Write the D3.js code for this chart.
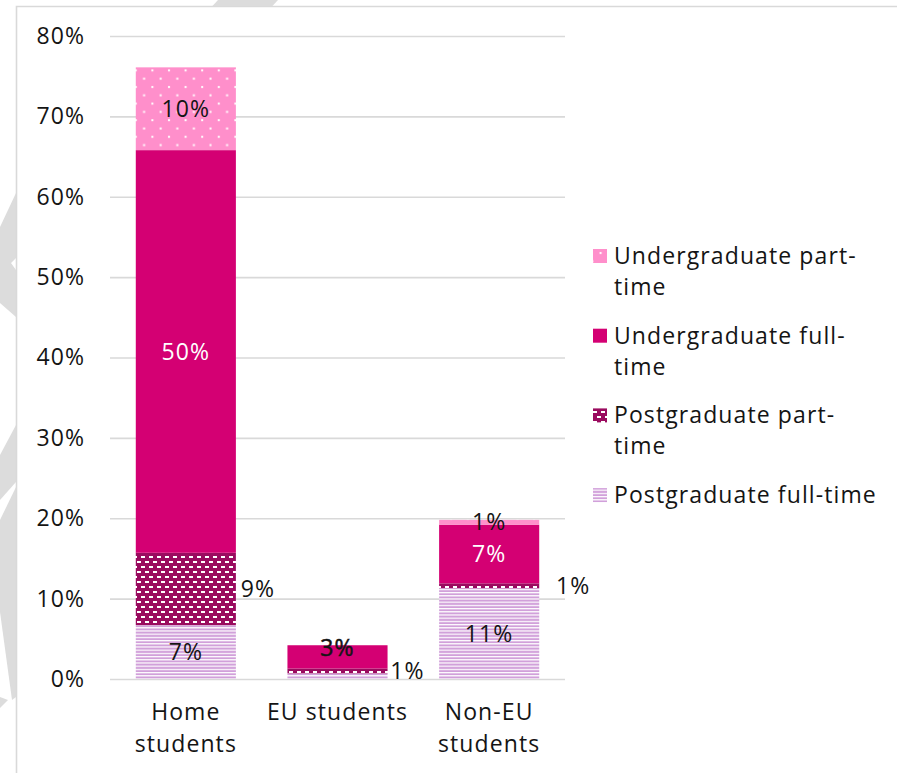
<!DOCTYPE html>
<html>
<head>
<meta charset="utf-8">
<script src="https://cdn.jsdelivr.net/npm/d3@7"></script>
<style>
  html, body { margin: 0; padding: 0; background: #fff; }
  svg { display: block; }
  text { font-family: "Open Sans", "Noto Sans", sans-serif; fill: #141414; letter-spacing: 1.1px; }
</style>
</head>
<body>
<svg id="chart" width="897" height="773"></svg>
<script>
// Student population by domicile and mode of study (share of all students)
const categories = ["Home students", "EU students", "Non-EU students"];
const seriesNames = [
  "Postgraduate full-time",
  "Postgraduate part-time",
  "Undergraduate full-time",
  "Undergraduate part-time"
];
// values per category, in stacking order (bottom to top)
const pgFullTime  = [0.067, 0.007, 0.113];
const pgPartTime  = [0.090, 0.006, 0.006];
const ugFullTime  = [0.501, 0.029, 0.073];
const ugPartTime  = [0.103, 0.000, 0.006];
const yTicks = [0, 0.1, 0.2, 0.3, 0.4, 0.5, 0.6, 0.7, 0.8];
// legend reads top to bottom
const legendOrder = [
  "Undergraduate part-time",
  "Undergraduate full-time",
  "Postgraduate part-time",
  "Postgraduate full-time"
];

const seriesValues = [pgFullTime, pgPartTime, ugFullTime, ugPartTime];

// data label placement per category (same series order as above)
const labelPlacement = [
  ["in", "out", "in", "in"],
  ["none", "out", "inHigh", "none"],
  ["in", "out", "in", "in"]
];
const outsideOffset = [22, 20, 34];

const svg = d3.select("#chart");
const W = 897, H = 773;
const margin = { left: 110, right: 332, top: 36, bottom: 94 };
const plotW = W - margin.left - margin.right;

// ---- background decoration and frame ----
const deco = svg.append("g").attr("fill", "#dcdcdc");
const shapes = [
  [[218, 0], [278, 0], [272, 6.5], [212, 6.5]],
  [[16, 193], [16, 258], [11, 263], [16, 270], [16, 317], [0, 303], [0, 227]],
  [[16, 425], [16, 482], [0, 500], [0, 455]],
  [[16, 487], [16, 633], [6, 625], [0, 600], [0, 520]],
  [[16, 600], [16, 697], [12, 700], [0, 612], [0, 600]],
  [[0, 697], [8, 700], [0, 708]]
];
deco.selectAll("path").data(shapes).join("path")
  .attr("d", d => d3.line()(d) + "Z");

svg.append("path")
  .attr("d", `M16.5,${H} L16.5,6.5 L${W},6.5`)
  .attr("fill", "none").attr("stroke", "#d9d9d9").attr("stroke-width", 1.6);

// ---- fill patterns ----
const defs = svg.append("defs");
const colors = {
  "Undergraduate part-time": "#ff8fcb",
  "Undergraduate full-time": "#d40073",
  "Postgraduate part-time": "#9a0b5f",
  "Postgraduate full-time": "#d1a0da"
};

const pDots = defs.append("pattern").attr("id", "pat-ugpt")
  .attr("patternUnits", "userSpaceOnUse").attr("width", 16.6).attr("height", 16.6);
pDots.append("rect").attr("width", 16.6).attr("height", 16.6).attr("fill", colors["Undergraduate part-time"]);
pDots.append("rect").attr("x", 2).attr("y", 3).attr("width", 2).attr("height", 2).attr("fill", "#fff");
pDots.append("rect").attr("x", 10.3).attr("y", 11.3).attr("width", 2).attr("height", 2).attr("fill", "#fff");

const pBrick = defs.append("pattern").attr("id", "pat-pgpt")
  .attr("patternUnits", "userSpaceOnUse").attr("width", 8).attr("height", 10);
pBrick.append("rect").attr("width", 8).attr("height", 10).attr("fill", colors["Postgraduate part-time"]);
pBrick.append("rect").attr("x", 1).attr("y", 1).attr("width", 4).attr("height", 2).attr("fill", "#fff");
pBrick.append("rect").attr("x", 5).attr("y", 6).attr("width", 4).attr("height", 2).attr("fill", "#fff");
pBrick.append("rect").attr("x", -3).attr("y", 6).attr("width", 4).attr("height", 2).attr("fill", "#fff");

const pStripe = defs.append("pattern").attr("id", "pat-pgft")
  .attr("patternUnits", "userSpaceOnUse").attr("width", 10).attr("height", 3.2);
pStripe.append("rect").attr("width", 10).attr("height", 3.2).attr("fill", "#fff");
pStripe.append("rect").attr("y", 1.2).attr("width", 10).attr("height", 2).attr("fill", colors["Postgraduate full-time"]);

const fills = {
  "Undergraduate part-time": "url(#pat-ugpt)",
  "Undergraduate full-time": colors["Undergraduate full-time"],
  "Postgraduate part-time": "url(#pat-pgpt)",
  "Postgraduate full-time": "url(#pat-pgft)"
};

// ---- scales ----
const x = d3.scaleBand().domain(categories)
  .range([margin.left, margin.left + plotW])
  .paddingInner(0.34).paddingOuter(0.17);
const y = d3.scaleLinear().domain([0, 0.8]).range([679, 36]);

// ---- y axis with gridlines ----
const yAxis = svg.append("g").attr("transform", `translate(${margin.left},0)`)
  .call(d3.axisLeft(y).tickValues(yTicks).tickFormat(d3.format(".0%"))
    .tickSizeInner(-plotW).tickSizeOuter(0).tickPadding(25));
yAxis.select(".domain").remove();
yAxis.selectAll(".tick line").attr("stroke", "#d9d9d9").attr("stroke-width", 1.6);
yAxis.selectAll(".tick text").attr("font-size", 23).attr("fill", "#141414")
  .style("font-family", "'Open Sans', sans-serif");

// ---- stacked bars ----
const table = categories.map((c, i) => {
  const row = { category: c };
  seriesNames.forEach((s, k) => { row[s] = seriesValues[k][i]; });
  return row;
});
const stack = d3.stack().keys(seriesNames)(table);

const layers = svg.append("g").selectAll("g").data(stack).join("g")
  .attr("fill", d => fills[d.key]);
layers.selectAll("rect").data(d => d).join("rect")
  .attr("x", d => x(d.data.category))
  .attr("y", d => y(d[1]))
  .attr("width", x.bandwidth())
  .attr("height", d => Math.max(0, y(d[0]) - y(d[1])));

// ---- data labels ----
const fmt = d3.format(".0%");
const labels = svg.append("g").attr("font-size", 23);
stack.forEach((layer, k) => {
  layer.forEach((d, i) => {
    const mode = labelPlacement[i][k];
    if (mode === "none") return;
    const cx = x(d.data.category) + x.bandwidth() / 2;
    const cy = (y(d[0]) + y(d[1])) / 2;
    const segH = y(d[0]) - y(d[1]);
    const onDark = layer.key === "Undergraduate full-time" && segH > 30;
    const t = labels.append("text")
      .attr("text-anchor", "middle")
      .attr("dy", "0.35em")
      .style("fill", onDark ? "#fff" : "#141414")
      .text(fmt(d.data[layer.key]));
    if (mode === "out") {
      t.attr("x", x(d.data.category) + x.bandwidth() + outsideOffset[i]).attr("y", cy);
    } else if (mode === "inHigh") {
      t.attr("x", cx).attr("y", cy - 9)
        .style("stroke", "#141414").style("stroke-width", 0.5);
    } else {
      t.attr("x", cx).attr("y", cy);
    }
  });
});

// ---- x axis category labels (wrapped to band step) ----
const xLabels = svg.append("g").attr("font-size", 23);
categories.forEach(c => {
  const t = xLabels.append("text").attr("text-anchor", "middle")
    .attr("x", x(c) + x.bandwidth() / 2).attr("y", 720);
  const words = c.split(" ");
  let line = [];
  let tspan = t.append("tspan").attr("x", x(c) + x.bandwidth() / 2).attr("dy", 0);
  words.forEach(w => {
    line.push(w);
    tspan.text(line.join(" "));
    if (tspan.node().getComputedTextLength() > x.step() - 4 && line.length > 1) {
      line.pop();
      tspan.text(line.join(" "));
      line = [w];
      tspan = t.append("tspan").attr("x", x(c) + x.bandwidth() / 2)
        .attr("dy", 32).text(w);
    }
  });
});

// ---- legend ----
const legend = svg.append("g").attr("font-size", 23);
const legendLines = {
  "Undergraduate part-time": ["Undergraduate part-", "time"],
  "Undergraduate full-time": ["Undergraduate full-", "time"],
  "Postgraduate part-time": ["Postgraduate part-", "time"],
  "Postgraduate full-time": ["Postgraduate full-time"]
};
legendOrder.forEach((s, i) => {
  const top = 256 + i * 79.7;
  legend.append("rect").attr("x", 593).attr("y", top - 7).attr("width", 14).attr("height", 14)
    .attr("fill", fills[s]);
  const t = legend.append("text").attr("x", 614).attr("y", top);
  legendLines[s].forEach((ln, j) => {
    t.append("tspan").attr("x", 614).attr("dy", j === 0 ? "0.35em" : 31).text(ln);
  });
});
</script>
</body>
</html>
